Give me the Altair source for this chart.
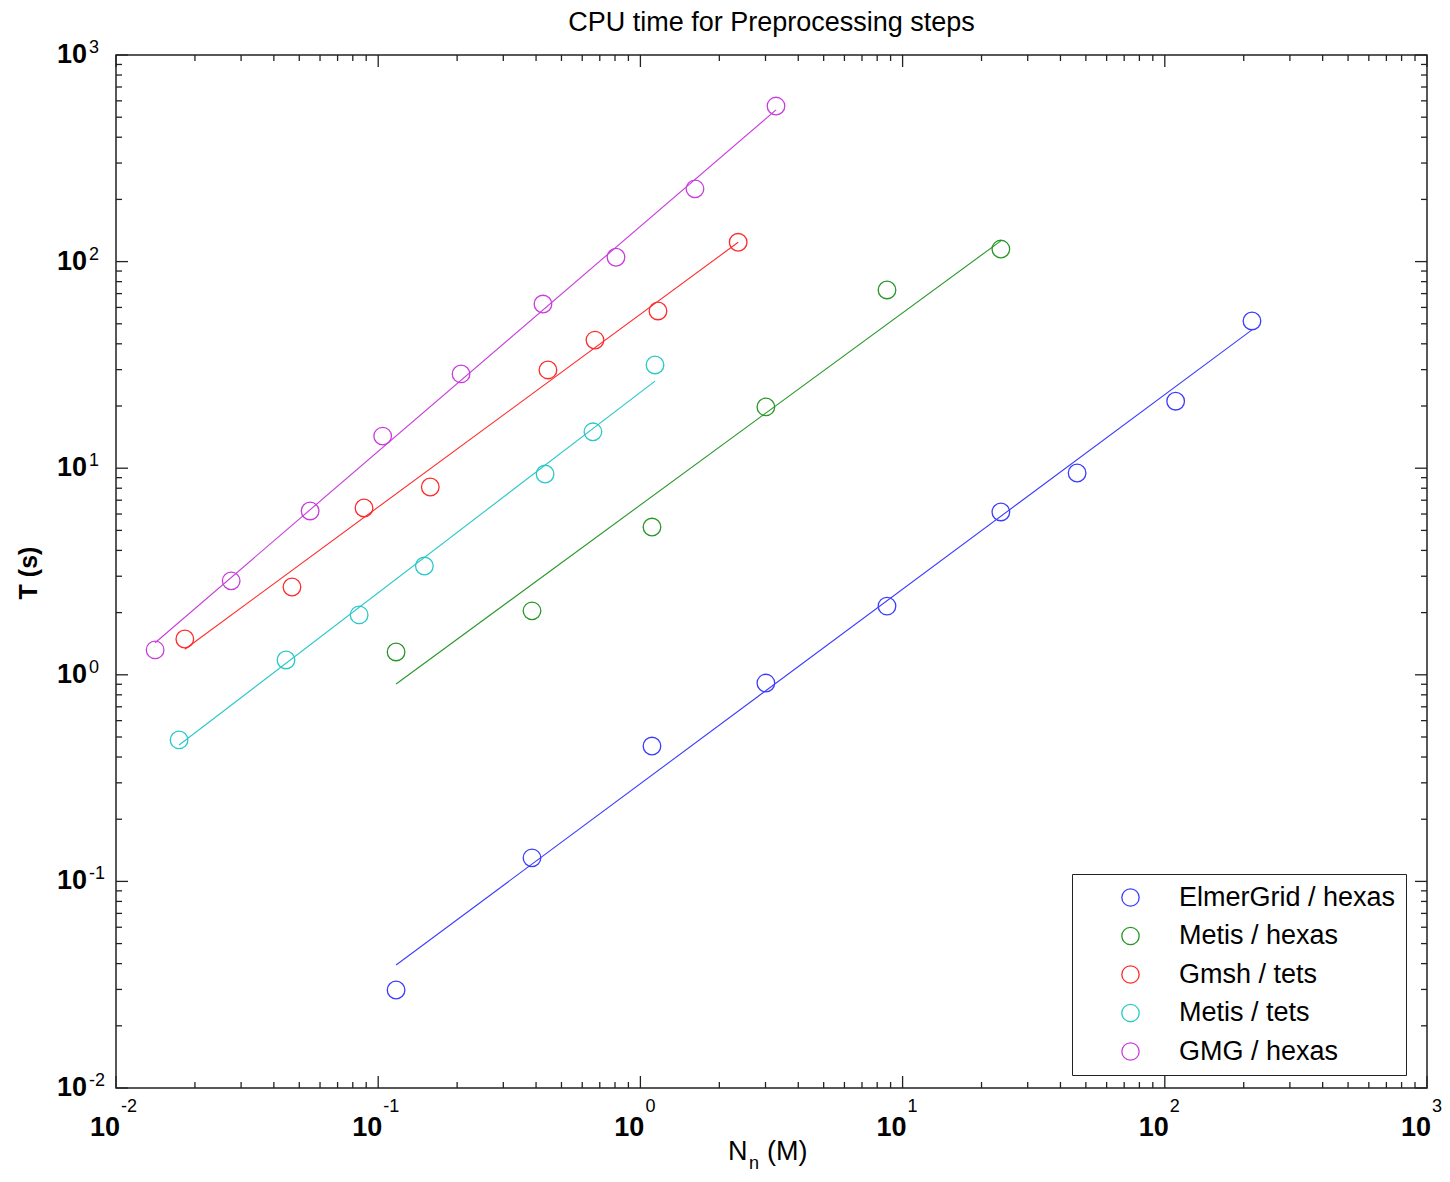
import altair as alt
import pandas as pd

FONT = "Liberation Sans"

series_names = ["ElmerGrid / hexas", "Metis / hexas", "Gmsh / tets", "Metis / tets", "GMG / hexas"]
series_colors = ["#3c3cff", "#289628", "#ff2a2a", "#2ac8c8", "#c83cdc"]

elmergrid_n = [0.117, 0.386, 1.107, 3.01, 8.72, 23.7, 46.3, 110, 215]
elmergrid_t = [0.0298, 0.130, 0.452, 0.912, 2.15, 6.14, 9.48, 21.1, 51.6]
metis_hex_n = [0.117, 0.386, 1.107, 3.01, 8.72, 23.7]
metis_hex_t = [1.29, 2.04, 5.19, 19.8, 72.9, 115]
gmsh_n = [0.0183, 0.0469, 0.0883, 0.158, 0.444, 0.671, 1.167, 2.36]
gmsh_t = [1.49, 2.66, 6.42, 8.11, 29.9, 41.7, 57.7, 124]
metis_tet_n = [0.0174, 0.0445, 0.0846, 0.150, 0.433, 0.659, 1.137]
metis_tet_t = [0.484, 1.18, 1.95, 3.36, 9.37, 15.0, 31.6]
gmg_n = [0.0141, 0.0275, 0.0550, 0.104, 0.207, 0.425, 0.807, 1.615, 3.29]
gmg_t = [1.32, 2.85, 6.21, 14.3, 28.6, 62.3, 105, 225, 566]

# fitted lines: start / end per series (same order as series_names)
fit_n_start = [0.117, 0.117, 0.0183, 0.0174, 0.0141]
fit_n_end = [215, 23.7, 2.36, 1.137, 3.29]
fit_t_start = [0.0394, 0.903, 1.33, 0.457, 1.43]
fit_t_end = [46.7, 126, 124, 26.4, 542]

major_ticks = [0.01, 0.1, 1, 10, 100, 1000]
major_exponents = ["-2", "-1", "0", "1", "2", "3"]
minor_mantissas = [2, 3, 4, 5, 6, 7, 8, 9]

title_text = "CPU time for Preprocessing steps"
y_title = "T (s)"

W, H = 1311, 1033

# ---- tables ----
all_n = [elmergrid_n, metis_hex_n, gmsh_n, metis_tet_n, gmg_n]
all_t = [elmergrid_t, metis_hex_t, gmsh_t, metis_tet_t, gmg_t]
rows = []
for name, ns, ts in zip(series_names, all_n, all_t):
    for n, t in zip(ns, ts):
        rows.append({"series": name, "n": n, "t": t})
points_df = pd.DataFrame(rows)

fit_rows = []
for i, name in enumerate(series_names):
    fit_rows.append({"series": name, "n": fit_n_start[i], "t": fit_t_start[i]})
    fit_rows.append({"series": name, "n": fit_n_end[i], "t": fit_t_end[i]})
fit_df = pd.DataFrame(fit_rows)

minor_vals = [m * d for d in major_ticks[:-1] for m in minor_mantissas]
minor_df = pd.DataFrame({"v": minor_vals})
major_df = pd.DataFrame({"v": major_ticks, "e": major_exponents, "b": ["10"] * len(major_ticks)})

xs = alt.Scale(type="log", domain=[0.01, 1000], nice=False)
ys = alt.Scale(type="log", domain=[0.01, 1000], nice=False)
cs = alt.Scale(domain=series_names, range=series_colors)

X = lambda f: alt.X(f, scale=xs, axis=None)
Y = lambda f: alt.Y(f, scale=ys, axis=None)

fit = alt.Chart(fit_df).mark_line(strokeWidth=1.1).encode(
    x=X("n:Q"), y=Y("t:Q"),
    color=alt.Color("series:N", scale=cs, legend=None),
)

points = alt.Chart(points_df).mark_point(
    shape="circle", filled=False, size=310, strokeWidth=1.3, opacity=1
).encode(
    x=X("n:Q"), y=Y("t:Q"),
    color=alt.Color(
        "series:N", scale=cs,
        legend=alt.Legend(
            title=None, orient="none", legendX=956, legendY=819,
            fillColor="white", strokeColor="#222", padding=10,
            rowPadding=10.5, symbolType="circle", symbolSize=300,
            symbolStrokeWidth=1.3, symbolOffset=35, labelOffset=35,
            labelFont=FONT, labelFontSize=27, labelColor="black",
            labelLimit=500,
        ),
    ),
)

TC = "#222"
def xticks(df, length):
    top = alt.Chart(df).mark_rule(color=TC, strokeWidth=1.3).encode(
        x=X("v:Q"), y=alt.value(0), y2=alt.value(length))
    bot = alt.Chart(df).mark_rule(color=TC, strokeWidth=1.3).encode(
        x=X("v:Q"), y=alt.value(H), y2=alt.value(H - length))
    return [top, bot]

def yticks(df, length):
    left = alt.Chart(df).mark_rule(color=TC, strokeWidth=1.3).encode(
        y=Y("v:Q"), x=alt.value(0), x2=alt.value(length))
    right = alt.Chart(df).mark_rule(color=TC, strokeWidth=1.3).encode(
        y=Y("v:Q"), x=alt.value(W), x2=alt.value(W - length))
    return [left, right]

ticks = xticks(minor_df, 6) + xticks(major_df, 12) + yticks(minor_df, 6) + yticks(major_df, 12)

x10 = alt.Chart(major_df).mark_text(
    align="right", baseline="alphabetic", dx=4, font=FONT, fontSize=27,
    fontWeight="bold", color="black"
).encode(x=X("v:Q"), y=alt.value(H + 48), text="b:N")
xexp = alt.Chart(major_df).mark_text(
    align="left", baseline="alphabetic", dx=5, font=FONT, fontSize=18, color="black"
).encode(x=X("v:Q"), y=alt.value(H + 24), text="e:N")
y10 = alt.Chart(major_df).mark_text(
    align="right", baseline="alphabetic", dy=8, font=FONT, fontSize=27,
    fontWeight="bold", color="black"
).encode(y=Y("v:Q"), x=alt.value(-29), text="b:N")
yexp = alt.Chart(major_df).mark_text(
    align="left", baseline="alphabetic", dy=-2, font=FONT, fontSize=18, color="black"
).encode(y=Y("v:Q"), x=alt.value(-27), text="e:N")

title = alt.Chart(pd.DataFrame({"t": [title_text]})).mark_text(
    align="center", baseline="alphabetic", font=FONT, fontSize=27, color="black"
).encode(text="t:N", x=alt.value(W / 2), y=alt.value(-24))

ytitle = alt.Chart(pd.DataFrame({"t": [y_title]})).mark_text(
    align="center", baseline="middle", angle=270, font=FONT, fontSize=25,
    fontWeight="bold", color="black"
).encode(text="t:N", x=alt.value(-87), y=alt.value(518))

xt_main = alt.Chart(pd.DataFrame({"t": ["N"]})).mark_text(
    align="left", baseline="alphabetic", font=FONT, fontSize=27, color="black"
).encode(text="t:N", x=alt.value(612), y=alt.value(H + 72))
xt_sub = alt.Chart(pd.DataFrame({"t": ["n"]})).mark_text(
    align="left", baseline="alphabetic", font=FONT, fontSize=18, color="black"
).encode(text="t:N", x=alt.value(633), y=alt.value(H + 81))
xt_unit = alt.Chart(pd.DataFrame({"t": ["(M)"]})).mark_text(
    align="left", baseline="alphabetic", font=FONT, fontSize=27, color="black"
).encode(text="t:N", x=alt.value(651), y=alt.value(H + 72))

chart = alt.layer(
    fit, points, *ticks, x10, xexp, y10, yexp, title, ytitle, xt_main, xt_sub, xt_unit
).resolve_scale(color="independent").properties(
    width=W, height=H,
    padding={"left": 108, "top": 47, "right": 15, "bottom": 86},
    autosize=alt.AutoSizeParams(type="none"),
).configure_view(stroke="#222", strokeWidth=1.5)

chart.save("out.html", embed_options={"renderer": "svg", "actions": False})
